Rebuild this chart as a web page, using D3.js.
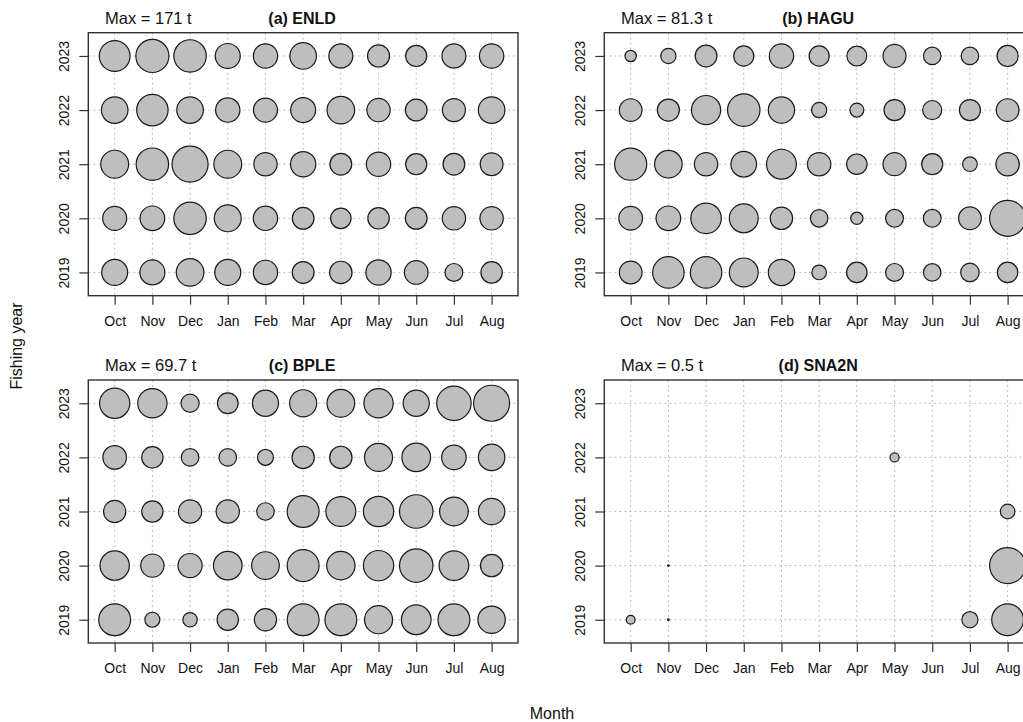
<!DOCTYPE html>
<html><head><meta charset="utf-8">
<script src="https://cdn.jsdelivr.net/npm/d3@7"></script>
<style>
html,body{margin:0;padding:0;background:#fff;overflow:hidden}
text{font-family:"Liberation Sans",Arial,sans-serif;fill:#111}
</style></head>
<body>
<svg id="chart" width="1023" height="722"></svg>
<script>
const months = ["Oct","Nov","Dec","Jan","Feb","Mar","Apr","May","Jun","Jul","Aug"];
const years = [2019, 2020, 2021, 2022, 2023];

// values in tonnes, one row per fishing year (2019..2023), columns Oct..Aug
const enld = [
  [88.8, 82.3, 100.3, 88.8, 78.1, 62.3, 66.1, 84.4, 74.0, 42.0, 60.5],
  [76.0, 80.2, 138.8, 95.6, 78.1, 62.3, 55.1, 60.5, 62.3, 71.9, 71.9],
  [102.6, 138.8, 171, 102.6, 71.9, 84.4, 62.3, 78.1, 58.6, 62.3, 68.0],
  [93.3, 130.6, 93.3, 78.1, 76.0, 82.3, 100.3, 71.9, 62.3, 70.0, 93.3],
  [125.3, 144.4, 138.8, 82.3, 78.1, 93.3, 76.0, 64.2, 58.6, 76.0, 78.1]
];
const hagu = [
  [32.3, 62.1, 62.1, 52.3, 43.3, 13.4, 26.2, 20.0, 19.2, 21.4, 26.2],
  [35.2, 38.1, 58.3, 52.3, 31.4, 19.2, 9.5, 20.0, 20.0, 32.3, 81.3],
  [64.7, 47.7, 34.2, 41.2, 55.9, 34.2, 26.2, 33.3, 27.9, 13.4, 34.2],
  [32.3, 30.5, 53.4, 66.0, 43.3, 14.6, 12.2, 27.9, 23.0, 27.9, 32.3],
  [8.1, 14.6, 29.6, 25.4, 37.1, 25.4, 24.6, 33.3, 19.2, 19.2, 27.9]
];
const bple = [
  [54.6, 12.1, 11.1, 24.5, 26.7, 54.6, 54.6, 42.3, 47.2, 54.6, 40.4],
  [46.2, 29.1, 31.5, 44.2, 41.3, 54.6, 43.2, 49.3, 60.2, 47.2, 26.7],
  [26.7, 24.5, 29.1, 29.1, 16.5, 54.6, 48.2, 49.3, 60.2, 44.2, 37.6],
  [29.9, 24.5, 16.5, 16.5, 13.6, 26.7, 26.7, 42.3, 44.2, 32.4, 37.6],
  [49.3, 46.2, 17.7, 23.1, 36.7, 39.4, 41.3, 46.2, 36.7, 63.7, 69.7]
];
const sna2n = [
  [0.03, 0.001, null, null, null, null, null, null, null, 0.10, 0.39],
  [null, 0.001, null, null, null, null, null, null, null, null, 0.5],
  [null, null, null, null, null, null, null, null, null, null, 0.082],
  [null, null, null, null, null, null, null, 0.032, null, null, null],
  [null, null, null, null, null, null, null, null, null, null, null]
];
const panelTitles = ["(a) ENLD", "(b) HAGU", "(c) BPLE", "(d) SNA2N"];
const maxLabels = ["Max = 171 t", "Max = 81.3 t", "Max = 69.7 t", "Max = 0.5 t"];
const panelData = [enld, hagu, bple, sna2n];

const svg = d3.select("#chart");
const W = 429.7, H = 263;
const origins = [[88.3, 32.7], [604.3, 32.7], [88.3, 380], [604.3, 380]];

const x = d3.scaleLinear().domain([0.3, 11.7]).range([0, W]);
const y = d3.scaleLinear().domain([2018.57, 2023.43]).range([H, 0]);

panelData.forEach((data, p) => {
  const [ox, oy] = origins[p];
  const g = svg.append("g").attr("transform", `translate(${ox},${oy})`);
  let maxV = 0;
  data.forEach(r => r.forEach(v => { if (v != null && v > maxV) maxV = v; }));
  const r = d3.scaleSqrt().domain([0, maxV]).range([0, 18]);

  // grid
  g.append("g").selectAll("line").data(months).join("line")
    .attr("x1", (d, i) => x(i + 1)).attr("x2", (d, i) => x(i + 1))
    .attr("y1", 0).attr("y2", H)
    .attr("stroke", "#bdbdbd").attr("stroke-width", 1).attr("stroke-dasharray", "2,3");
  g.append("g").selectAll("line").data(years).join("line")
    .attr("y1", d => y(d)).attr("y2", d => y(d))
    .attr("x1", 0).attr("x2", W)
    .attr("stroke", "#bdbdbd").attr("stroke-width", 1).attr("stroke-dasharray", "2,3");

  // bubbles
  const pts = [];
  data.forEach((row, yi) => row.forEach((v, mi) => {
    if (v != null) pts.push({ m: mi + 1, yr: years[yi], v });
  }));
  g.append("g").selectAll("circle").data(pts).join("circle")
    .attr("cx", d => x(d.m)).attr("cy", d => y(d.yr))
    .attr("r", d => r(d.v))
    .attr("fill", "#bebebe").attr("stroke", "#1a1a1a").attr("stroke-width", 1.2);

  // box
  g.append("rect").attr("x", 0).attr("y", 0).attr("width", W).attr("height", H)
    .attr("fill", "none").attr("stroke", "#333").attr("stroke-width", 1.4);

  // x axis
  const xa = g.append("g").attr("transform", `translate(0,${H})`)
    .call(d3.axisBottom(x).tickValues(d3.range(1, 12)).tickFormat(d => months[d - 1])
      .tickSize(9).tickSizeOuter(0).tickPadding(11));
  xa.select(".domain").remove();
  xa.selectAll("line").attr("stroke", "#333").attr("stroke-width", 1.2);
  xa.selectAll("text").style("font-size", "14px").attr("fill", "#111");

  // y axis
  const ya = g.append("g")
    .call(d3.axisLeft(y).tickValues(years).tickFormat(d3.format("d")).tickSize(9).tickSizeOuter(0));
  ya.select(".domain").remove();
  ya.selectAll("line").attr("stroke", "#333").attr("stroke-width", 1.2);
  ya.selectAll("text").remove();
  ya.selectAll(".tick").append("text")
    .attr("transform", "translate(-24.5,0) rotate(-90)")
    .attr("text-anchor", "middle").attr("dy", "0.35em")
    .style("font-size", "14px").attr("fill", "#111")
    .text(d => d);

  // labels
  g.append("text").attr("x", 16.7).attr("y", -9)
    .style("font-size", "16.5px").text(maxLabels[p]);
  g.append("text").attr("x", W / 2 - 1).attr("y", -9).attr("text-anchor", "middle")
    .style("font-size", "16px").style("font-weight", "bold").text(panelTitles[p]);
});

svg.append("text").attr("transform", "translate(22,346) rotate(-90)")
  .attr("text-anchor", "middle").style("font-size", "16px").text("Fishing year");
svg.append("text").attr("x", 552).attr("y", 719).attr("text-anchor", "middle")
  .style("font-size", "16px").text("Month");
</script>
</body></html>
